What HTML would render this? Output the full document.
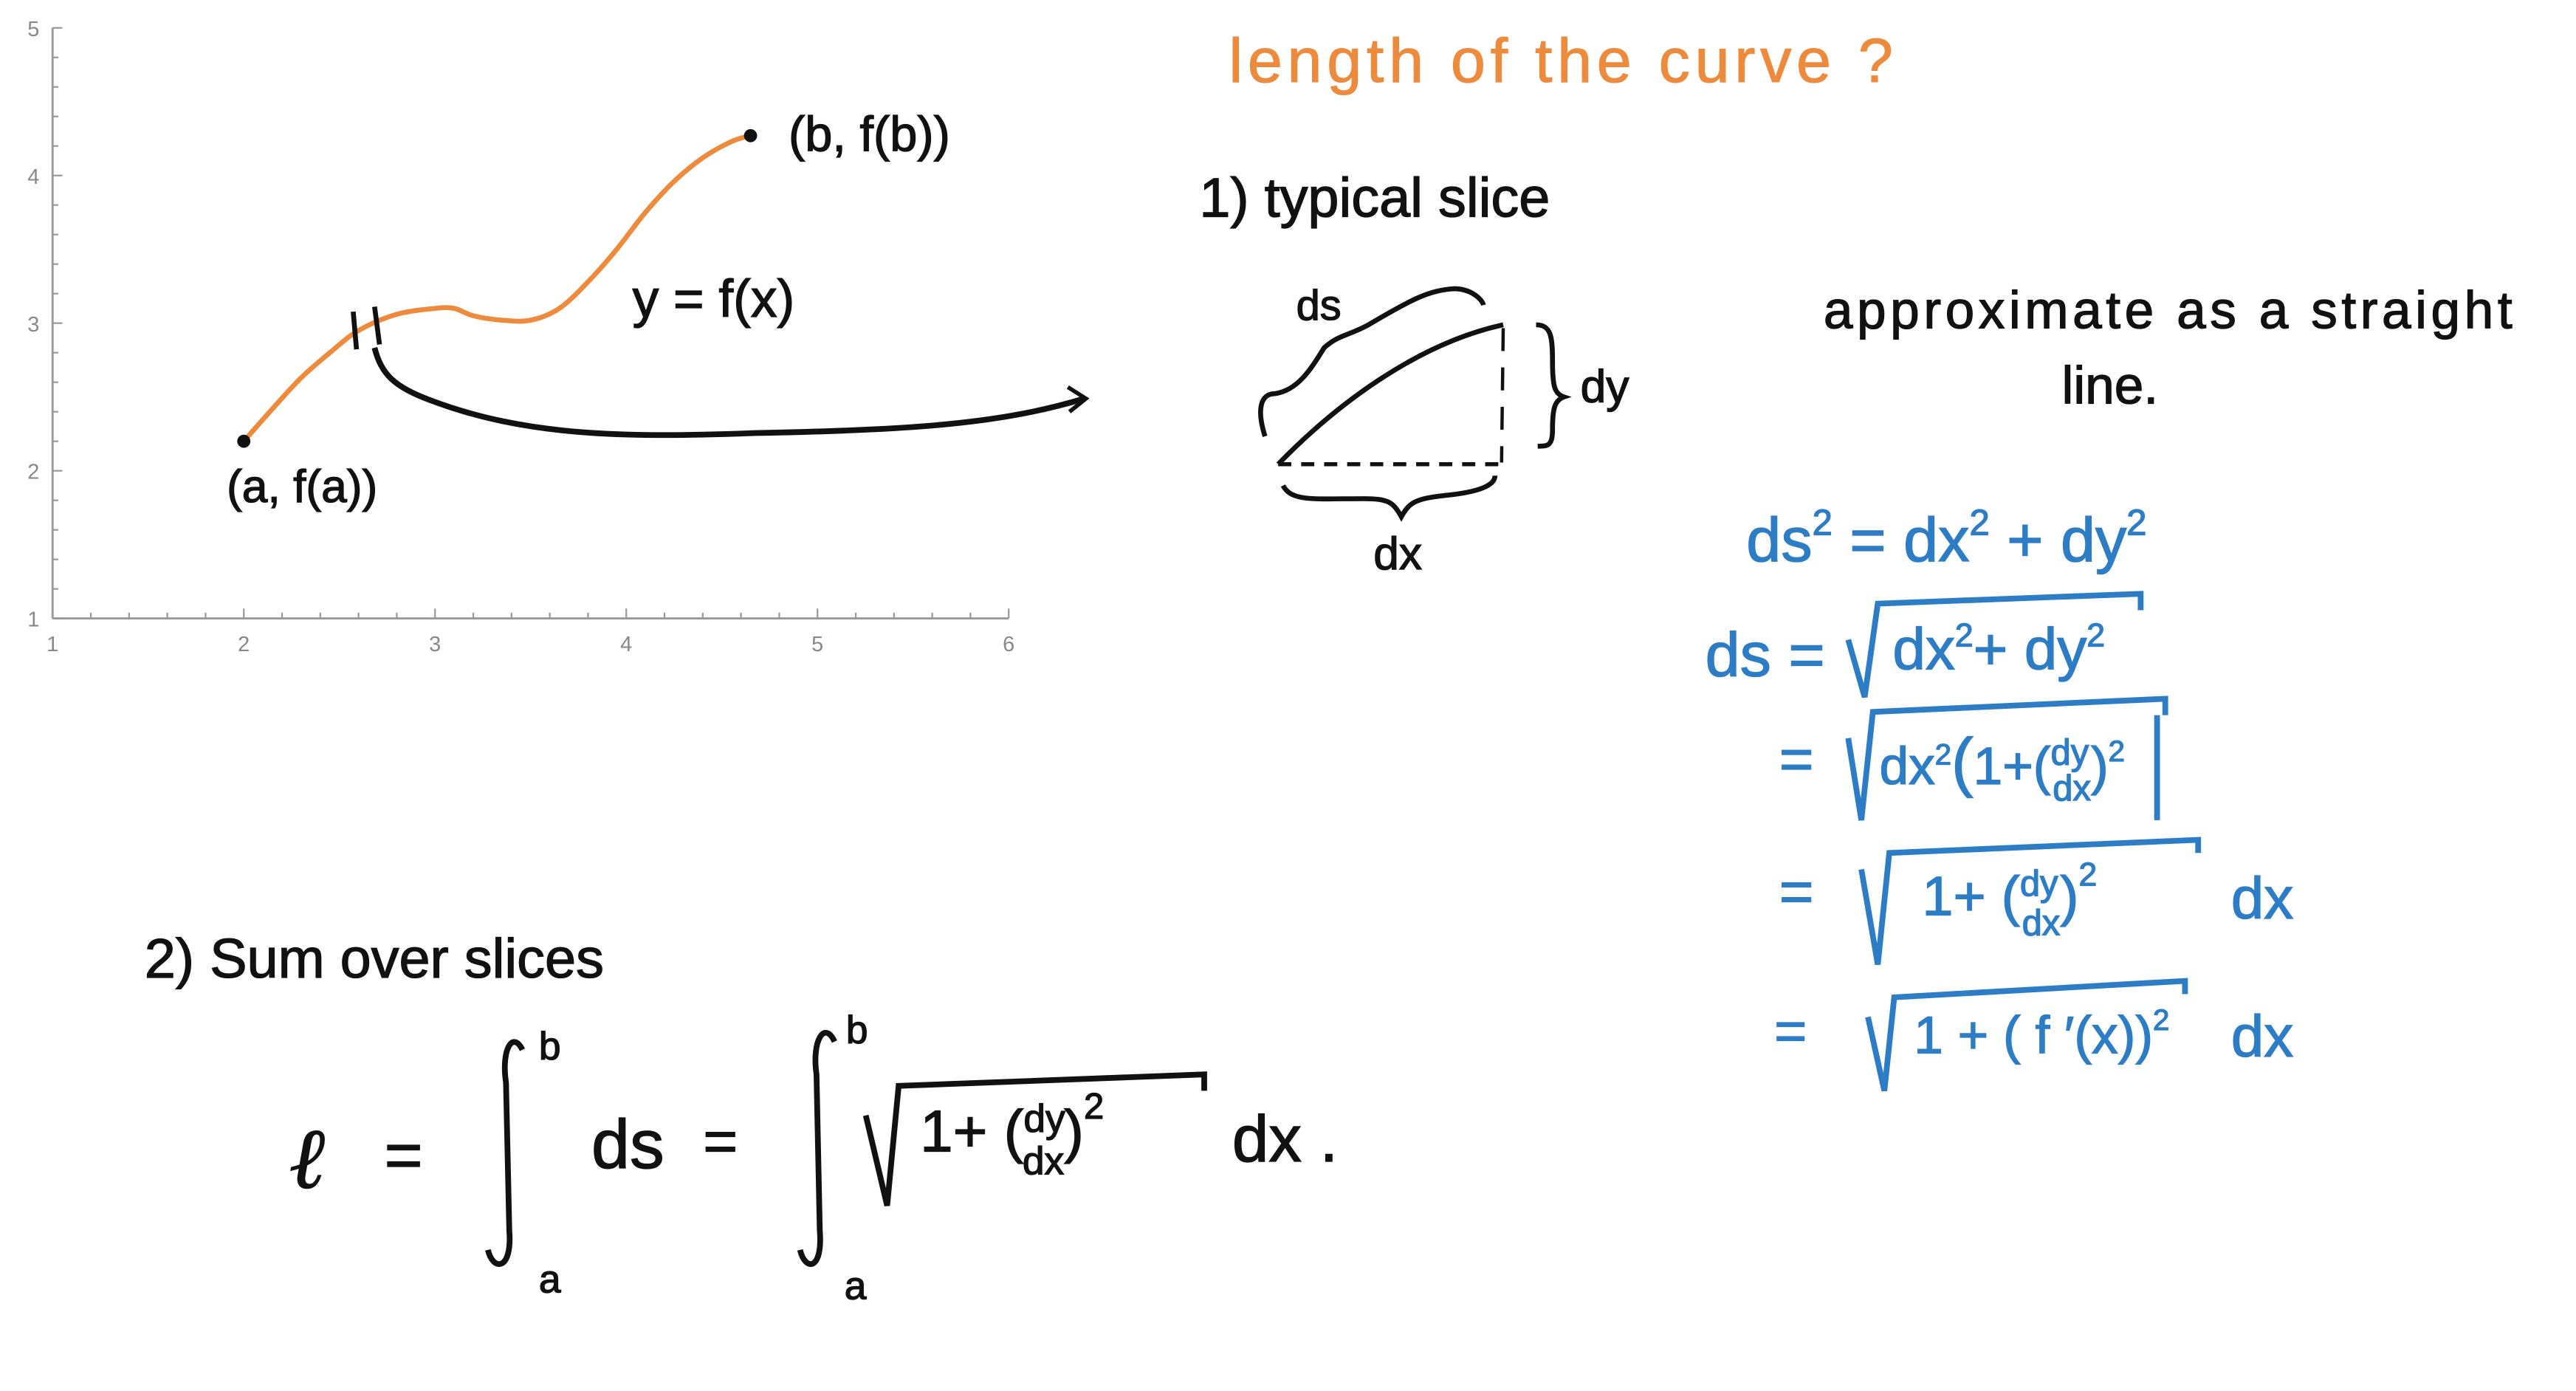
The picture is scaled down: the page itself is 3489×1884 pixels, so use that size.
<!DOCTYPE html>
<html><head><meta charset="utf-8">
<style>
html,body{margin:0;padding:0;background:#fff;}
svg{display:block;}
.hw{font-family:"Liberation Sans",sans-serif;}
.blk{fill:#111;stroke:#111;stroke-width:0.6;}
.org{fill:#ee8a3c;stroke:#ee8a3c;stroke-width:0.5;}
.blu{fill:#2d7cc6;stroke:#2d7cc6;stroke-width:0.6;}
</style></head>
<body>
<svg id="chart" width="3489" height="1884" viewBox="0 0 1568 848" preserveAspectRatio="none" xmlns="http://www.w3.org/2000/svg">
<rect width="1568" height="848" fill="#fff"/>
<g id="plot"></g>

<g class="hw">
<text x="480" y="92" font-size="30" class="blk">(b, f(b))</text>
<text x="138" y="306" font-size="28" class="blk">(a, f(a))</text>
<text x="385" y="193" font-size="32" class="blk">y = f(x)</text>
<line x1="215" y1="190" x2="217" y2="213" stroke="#111" stroke-width="3"/>
<line x1="228" y1="187" x2="231" y2="210" stroke="#111" stroke-width="3"/>
<path d="M228,212 C232,228 240,236 262,244 C320,266 380,267 460,264 C560,262 610,258 660,243" fill="none" stroke="#111" stroke-width="3.5"/>
<path d="M650,236 L661,243 L651,251" fill="none" stroke="#111" stroke-width="2.5"/>
</g>

<g class="hw">
<text x="748" y="50" font-size="38" class="org" letter-spacing="3">length  of  the  curve ?</text>
<text x="730" y="132" font-size="34" class="blk">1)  typical  slice</text>

<g>
<path d="M778,283 C810,250 860,210 915,198" fill="none" stroke="#111" stroke-width="3"/>
<line x1="778" y1="283" x2="912" y2="283" stroke="#111" stroke-width="2.5" stroke-dasharray="8,6"/>
<line x1="915" y1="200" x2="914" y2="282" stroke="#111" stroke-width="2" stroke-dasharray="14,10"/>
<path d="M770,266 C765,250 767,240 776,240 C790,238 798,225 806,212 C815,204 820,205 833,198 C860,182 870,177 885,176 C895,176 902,182 903,186" fill="none" stroke="#111" stroke-width="3"/>
<path d="M935,198 C944,198 945,205 945,220 C945,235 946,240 952,242 C946,244 945,250 945,262 C945,272 942,272 936,272" fill="none" stroke="#111" stroke-width="3"/>
<path d="M781,296 C786,306 800,304 830,304 C845,304 848,306 853,315 C858,306 862,304 880,302 C900,300 910,296 910,290" fill="none" stroke="#111" stroke-width="3"/>
<text x="789" y="195" font-size="26" class="blk">ds</text>
<text x="962" y="245" font-size="28" class="blk">dy</text>
<text x="836" y="347" font-size="28" class="blk">dx</text>
</g>

<text x="1110" y="200" font-size="32" class="blk" letter-spacing="2.5">approximate  as  a  straight</text>
<text x="1255" y="246" font-size="32" class="blk">line.</text>

<g class="blu">
<text x="1063" y="342" font-size="38">ds<tspan dy="-16" font-size="22">2</tspan><tspan dy="16"> = dx</tspan><tspan dy="-16" font-size="22">2</tspan><tspan dy="16"> + dy</tspan><tspan dy="-16" font-size="22">2</tspan></text>
<text x="1038" y="412" font-size="38">ds =</text>
<path d="M1125,390 L1135,425 L1143,368 L1303,362 L1303,372" fill="none" stroke="#2d7cc6" stroke-width="3.5"/>
<text x="1152" y="408" font-size="36">dx<tspan dy="-14" font-size="20">2</tspan><tspan dy="14">+ dy</tspan><tspan dy="-14" font-size="20">2</tspan></text>
<text x="1083" y="475" font-size="36">=</text>
<path d="M1125,450 L1133,500 L1140,434 L1318,426 L1318,436 M1313,436 L1313,500" fill="none" stroke="#2d7cc6" stroke-width="3.5"/>
<text x="1144" y="478" font-size="32">dx<tspan dy="-12" font-size="18">2</tspan><tspan dy="12" font-size="40">(</tspan><tspan font-size="32">1+(</tspan><tspan font-size="22" dy="-12">dy</tspan><tspan font-size="22" dx="-22" dy="22">dx</tspan><tspan font-size="32" dy="-10">)</tspan><tspan dy="-14" font-size="18">2</tspan></text>
<text x="1083" y="556" font-size="36">=</text>
<path d="M1133,530 L1143,588 L1150,520 L1338,512 L1338,520" fill="none" stroke="#2d7cc6" stroke-width="3.5"/>
<text x="1170" y="558" font-size="34">1+  (<tspan font-size="22" dy="-12">dy</tspan><tspan font-size="22" dx="-22" dy="24">dx</tspan><tspan dy="-12">)</tspan><tspan dy="-18" font-size="20">2</tspan></text>
<text x="1358" y="560" font-size="36">dx</text>
<text x="1080" y="640" font-size="34">=</text>
<path d="M1137,620 L1147,665 L1153,608 L1330,598 L1330,606" fill="none" stroke="#2d7cc6" stroke-width="3.5"/>
<text x="1165" y="642" font-size="32">1 +  ( f ′(x))<tspan dy="-14" font-size="18">2</tspan></text>
<text x="1358" y="644" font-size="36">dx</text>
</g>

<text x="88" y="596" font-size="34" class="blk">2)  Sum  over  slices</text>

<g class="blk">
<text x="176" y="724" font-size="52" font-style="italic" font-family="Liberation Serif, serif">ℓ</text>
<text x="234" y="718" font-size="40">=</text>
<path d="M318,640 C312,628 305,640 308,660 L310,750 C312,775 300,775 297,762" fill="none" stroke="#111" stroke-width="3.5"/>
<text x="328" y="646" font-size="24">b</text>
<text x="328" y="788" font-size="24">a</text>
<text x="360" y="712" font-size="42">ds</text>
<text x="428" y="708" font-size="36">=</text>
<path d="M508,635 C502,622 494,634 497,655 L499,750 C501,775 490,775 487,762" fill="none" stroke="#111" stroke-width="3.5"/>
<text x="515" y="636" font-size="24">b</text>
<text x="514" y="792" font-size="24">a</text>
<path d="M527,680 L540,735 L547,662 L733,655 L733,665" fill="none" stroke="#111" stroke-width="3.5"/>
<text x="560" y="702" font-size="36">1+   (<tspan font-size="24" dy="-12">dy</tspan><tspan font-size="24" dx="-26" dy="26">dx</tspan><tspan dy="-14">)</tspan><tspan dy="-20" font-size="22">2</tspan></text>
<text x="750" y="708" font-size="40">dx .</text>
</g>
</g>

<script>
const xTicks = [1, 2, 3, 4, 5, 6];
const yTicks = [1, 2, 3, 4, 5];
const curveX = [2.0, 2.15, 2.3, 2.45, 2.6, 2.8, 3.0, 3.1, 3.2, 3.35, 3.5, 3.65, 3.8, 3.95, 4.1, 4.25, 4.4, 4.55, 4.65];
const curveY = [2.2, 2.42, 2.63, 2.8, 2.95, 3.06, 3.1, 3.1, 3.05, 3.02, 3.02, 3.1, 3.28, 3.5, 3.75, 3.96, 4.12, 4.23, 4.27];
const endpointsX = [2.0, 4.65];
const endpointsY = [2.2, 4.27];

const NS = "http://www.w3.org/2000/svg";
const X0 = 32, XU = 116.4, Y0 = 377, YU = 90;
function sx(v){ return X0 + (v - 1) * XU; }
function sy(v){ return Y0 - (v - 1) * YU; }
const plot = document.getElementById('plot');
function mk(tag, attrs){ const e = document.createElementNS(NS, tag); for (const k in attrs) e.setAttribute(k, attrs[k]); plot.appendChild(e); return e; }

let ax = mk('line', {x1: sx(1), y1: sy(1), x2: sx(6), y2: sy(1), stroke: '#999', 'stroke-width': 1.3});


let ay = mk('line', {x1: sx(1), y1: sy(1), x2: sx(1), y2: sy(5), stroke: '#999', 'stroke-width': 1.3});



for (let i = 0; i <= 25; i++) {
  const v = 1 + i * 0.2;
  const major = i % 5 === 0;
  const t = mk('line', {x1: sx(v), y1: sy(1), x2: sx(v), y2: sy(1) - (major ? 6 : 3.5), stroke: '#999', 'stroke-width': 1});
  
  
}
for (let i = 0; i <= 20; i++) {
  const v = 1 + i * 0.2;
  const major = i % 5 === 0;
  const t = mk('line', {x1: sx(1), y1: sy(v), x2: sx(1) + (major ? 6 : 3.5), y2: sy(v), stroke: '#999', 'stroke-width': 1});
  
  
}
xTicks.forEach(v => {
  const t = mk('text', {x: sx(v), y: sy(1) + 20, 'font-size': 13, 'text-anchor': 'middle', fill: '#888', 'font-family': 'Liberation Sans, sans-serif'});
  t.textContent = v;
  
  
});
yTicks.forEach(v => {
  const t = mk('text', {x: sx(1) - 8, y: sy(v) + 5, 'font-size': 13, 'text-anchor': 'end', fill: '#888', 'font-family': 'Liberation Sans, sans-serif'});
  t.textContent = v;
  
  
});

let pts = curveX.map((x, i) => [sx(x), sy(curveY[i])]);
let d = 'M' + pts[0][0] + ',' + pts[0][1];
for (let i = 0; i < pts.length - 1; i++) {
  const p0 = pts[Math.max(0, i - 1)], p1 = pts[i], p2 = pts[i + 1], p3 = pts[Math.min(pts.length - 1, i + 2)];
  const c1x = p1[0] + (p2[0] - p0[0]) / 6, c1y = p1[1] + (p2[1] - p0[1]) / 6;
  const c2x = p2[0] - (p3[0] - p1[0]) / 6, c2y = p2[1] - (p3[1] - p1[1]) / 6;
  d += ' C' + c1x + ',' + c1y + ' ' + c2x + ',' + c2y + ' ' + p2[0] + ',' + p2[1];
}
const curve = mk('path', {d: d, fill: 'none', stroke: '#ee8a3c', 'stroke-width': 3});



endpointsX.forEach((x, i) => {
  const c = mk('circle', {cx: sx(x), cy: sy(endpointsY[i]), r: 4, fill: '#111'});
  
  
});
</script>
</body></html>
